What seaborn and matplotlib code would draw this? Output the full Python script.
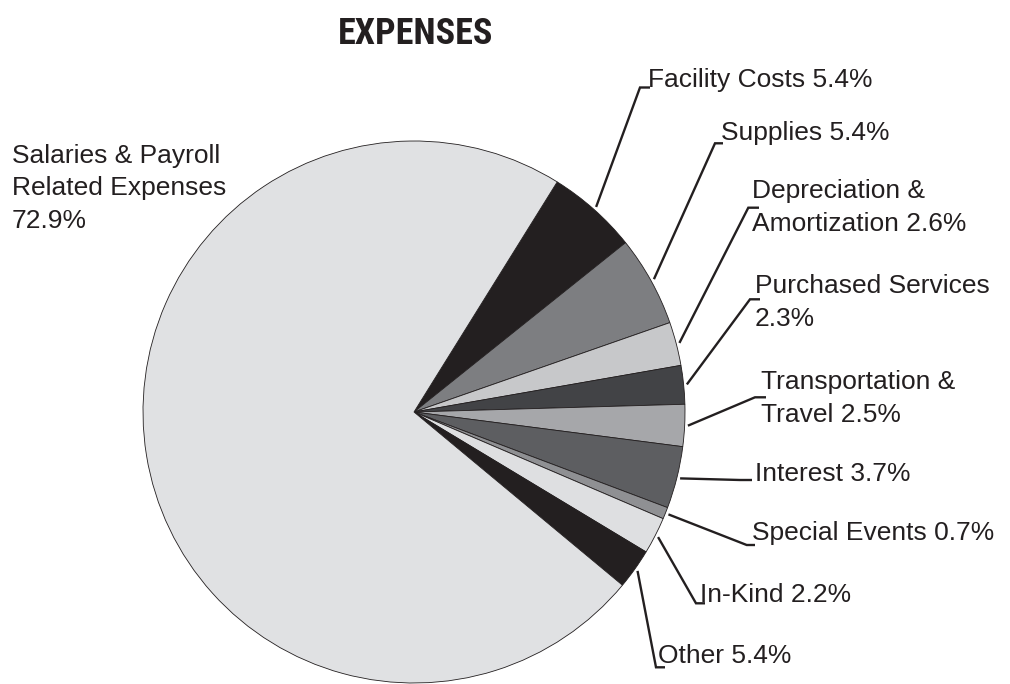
import matplotlib
matplotlib.use("Agg")
import matplotlib.pyplot as plt
from matplotlib import font_manager
import seaborn as sns
import numpy as np

# ---- data ----
categories = ["Facility Costs", "Supplies", "Depreciation & Amortization",
              "Purchased Services", "Transportation & Travel", "Interest",
              "Special Events", "In-Kind", "Other",
              "Salaries & Payroll Related Expenses"]
values = [5.4, 5.4, 2.6, 2.3, 2.5, 3.7, 0.7, 2.2, 2.4, 72.9]
label_texts = [["Facility Costs 5.4%"],
               ["Supplies 5.4%"],
               ["Depreciation &", "Amortization 2.6%"],
               ["Purchased Services", "2.3%"],
               ["Transportation &", "Travel 2.5%"],
               ["Interest 3.7%"],
               ["Special Events 0.7%"],
               ["In-Kind 2.2%"],
               ["Other 5.4%"],
               ["Salaries & Payroll", "Related Expenses", "72.9%"]]
colors = ["#231f20", "#7d7e81", "#c7c8ca", "#424346", "#a6a7aa",
          "#5d5e61", "#8f9093", "#dedfe1", "#231f20", "#e0e1e3"]
title = "EXPENSES"

sns.set_style("white")
names = {f.name for f in font_manager.fontManager.ttflist}
title_family, title_size = "Liberation Sans", 23.5
for cand in ["Liberation Sans Narrow", "Roboto Condensed", "Open Sans Condensed"]:
    if cand in names:
        title_family, title_size = cand, 26
        break
plt.rcParams["font.family"] = ["Liberation Sans", "DejaVu Sans"]

W, H = 1010, 684
CX, CY, R = 414, 412, 271
TXT = "#231f20"

fig = plt.figure(figsize=(W / 100, H / 100), dpi=100)
ax = fig.add_axes([0, 0, 1, 1])


def px(x, y):
    return (x - CX) / R, (CY - y) / R


wedges, _ = ax.pie(values, colors=colors, startangle=58.1, counterclock=False,
                   radius=1.0, center=(0, 0), normalize=True,
                   wedgeprops=dict(edgecolor="#231f20", linewidth=0.6))
ax.set_xlim(-CX / R, (W - CX) / R)
ax.set_ylim(-(H - CY) / R, CY / R)
ax.set_aspect("equal")
ax.axis("off")

# label layout (pixel positions): elbow point, end of horizontal tick, text left, first baseline
layout = [
    ((640, 87.5), 650, 647.5, 86.7),
    ((715, 143.3), 723, 721.0, 140.0),
    ((748.3, 207.7), 759, 752.5, 198.3),
    ((750, 299.3), 760, 755.0, 292.7),
    ((755, 397.3), 766, 761.0, 389.0),
    ((740, 480.0), 752, 755.0, 480.7),
    ((746.7, 545.0), 755, 751.5, 540.0),
    ((696, 603.3), 705, 700.0, 601.7),
    ((656, 667.3), 665, 658.0, 663.3),
    (None, None, 11.5, 162.5),
]
LINE_GAP = 33.0

for w, lines, (elbow, hend, tx, ty) in zip(wedges, label_texts, layout):
    if elbow is not None:
        mid = np.deg2rad((w.theta1 + w.theta2) / 2)
        sx, sy = 1.012 * np.cos(mid), 1.012 * np.sin(mid)
        ex, ey = px(*elbow)
        hx, hy = px(hend, elbow[1])
        ax.plot([sx, ex, hx], [sy, ey, hy], color=TXT, lw=1.7,
                solid_joinstyle="miter", solid_capstyle="butt", zorder=3)
    for i, line in enumerate(lines):
        x, y = px(tx, ty + i * LINE_GAP)
        ax.text(x, y, line, ha="left", va="baseline", fontsize=19, color=TXT)

x, y = px(416, 44)
ax.text(x, y, title, ha="center", va="baseline", fontsize=title_size,
        fontweight="bold", color=TXT, family=[title_family, "DejaVu Sans"])

fig.savefig("out.png", dpi=100)
